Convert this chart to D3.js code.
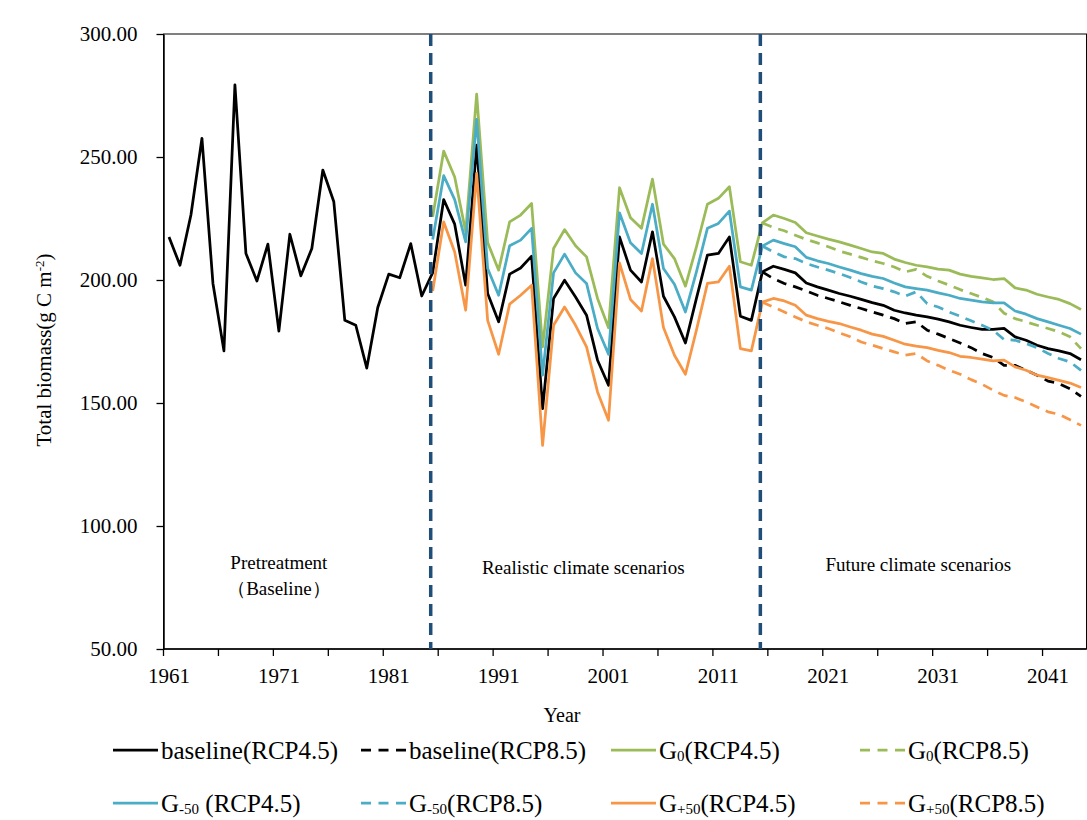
<!DOCTYPE html>
<html><head><meta charset="utf-8">
<script src="https://cdn.jsdelivr.net/npm/d3@7"></script>
<style>
body{margin:0;background:#fff}
svg{display:block}
text{font-family:"Times New Roman","Liberation Serif",serif;fill:#000}
</style>
</head><body>
<svg id="chart" width="1087" height="820"></svg>
<script>
// ---------- DATA ----------
const years = d3.range(1961, 2045);              // category axis 1961..2044
const xTickLabels = [1961, 1971, 1981, 1991, 2001, 2011, 2021, 2031, 2041];
const yTickValues = [50, 100, 150, 200, 250, 300];
const periodDividers = [1985, 2015];
const periodLabelText = [["Pretreatment", "（Baseline）"], ["Realistic climate scenarios"], ["Future climate scenarios"]];
const periodLabelYear = [1971.0, 1998.7, 2029.2];

// baseline (RCP4.5): 1961-2044
const baseline45 = [217.5,206,226.5,257.6,198.6,171.2,279.3,210.8,199.6,214.6,
  179.2,218.6,201.7,212.8,244.7,231.8,183.6,181.6,164.2,188.8,
  202.4,200.9,214.8,193.5,203.0,
  232.7,222.7,197.9,254.8,194.5,183.0,202.4,204.9,209.7,147.7,
  192.5,199.9,193.1,185.7,167.4,157.2,217.5,204.0,199.2,219.6,
  193.4,185.0,174.4,192.5,210.1,210.8,217.5,185.3,183.6,203.3,
  205.6,204.3,202.9,198.8,197.2,195.9,194.5,193.4,192.1,190.8,
  189.7,187.7,186.6,185.7,185.0,184.1,183.0,181.6,180.7,179.9,
  179.9,180.3,176.9,175.5,173.5,172.1,171.2,170.1,167.6];
// G0 (RCP4.5): 1985-2044
const g0_45 = [225.7,252.4,241.9,219.6,275.6,215.2,204.0,223.6,226.4,231.1,
  172.8,212.8,220.5,213.9,209.4,192.5,180.6,237.5,225.3,221.0,
  241.0,214.6,208.7,197.5,213.5,230.8,233.2,237.9,207.4,206.0,
  223.2,226.4,225.0,223.4,219.2,217.9,216.6,215.5,214.2,212.8,
  211.4,210.8,208.5,207.1,206.0,205.3,204.4,204.0,202.4,201.5,
  200.9,200.2,200.6,196.8,195.9,194.2,193.1,192.1,190.4,188.0];
// G-50 (RCP4.5): 1985-2044
const gm50_45 = [216.5,242.4,232.7,215.5,265.3,204.7,193.8,213.9,216.2,221.0,
  161.3,202.9,210.5,202.9,198.6,180.3,169.8,227.3,215.1,210.8,
  230.8,204.7,198.3,187.0,203.3,221.0,223.0,228.0,197.2,195.9,
  213.8,216.2,214.8,213.5,209.2,207.8,206.7,205.3,204.0,202.6,
  201.5,200.6,198.8,197.2,196.5,195.9,194.8,193.8,192.5,191.8,
  191.1,190.7,190.7,187.4,186.1,184.3,183.0,181.6,180.3,178.0];
// G+50 (RCP4.5): 1985-2044
const gp50_45 = [195.5,223.6,211.4,187.7,243.3,183.6,169.8,190.2,193.8,197.9,
  132.8,181.6,189.0,181.6,172.8,154.5,143.0,207.0,192.1,187.4,
  208.7,180.7,169.4,161.7,179.6,198.6,199.2,205.6,172.1,171.2,
  191.0,192.5,191.5,189.7,185.7,184.3,183.2,182.3,180.9,179.6,
  178.0,177.1,175.5,173.9,173.1,172.5,171.4,170.5,169.0,168.5,
  167.8,167.1,167.4,164.7,163.3,161.3,160.3,159.2,158.1,156.3];
// RCP8.5 scenarios: 2015-2044
const baseline85 = [203.3,200.6,198.6,197.2,195.6,193.8,192.5,191.1,189.7,188.4,
  187.0,185.7,184.3,182.3,183.0,179.6,178.0,176.2,174.4,172.5,
  170.1,168.5,165.3,165.3,163.3,161.3,158.9,157.9,155.8,152.7];
const g0_85 = [223.2,221.3,220.0,218.2,216.5,215.1,213.5,211.8,210.5,209.2,
  207.8,206.7,205.3,203.3,204.3,201.5,199.6,197.9,196.1,194.5,
  192.9,191.1,186.5,184.3,183.0,181.6,180.3,178.9,176.9,172.1];
const gm50_85 = [213.8,211.4,209.4,208.7,206.7,205.3,204.0,202.6,201.0,199.2,
  197.6,196.5,195.2,193.4,195.2,190.4,189.0,187.0,185.3,183.4,
  181.6,179.6,175.8,175.5,174.2,172.5,170.1,168.1,166.7,163.3];
const gp50_85 = [191.0,189.0,187.0,185.0,183.0,181.6,180.3,178.5,176.9,174.8,
  173.5,172.1,170.8,169.4,170.1,167.1,165.3,163.3,161.7,159.5,
  157.6,155.2,153.1,152.2,150.4,148.4,146.4,145.4,143.2,140.9];

const seriesStart = [1961, 2015, 1985, 2015, 1985, 2015, 1985, 2015];
const seriesValues = [baseline45, baseline85, g0_45, g0_85, gm50_45, gm50_85, gp50_45, gp50_85];
const seriesLabels = [
  ["baseline(RCP4.5)"], ["baseline(RCP8.5)"],
  ["G", "0", "(RCP4.5)"], ["G", "0", "(RCP8.5)"],
  ["G", "-50", " (RCP4.5)"], ["G", "-50", "(RCP8.5)"],
  ["G", "+50", "(RCP4.5)"], ["G", "+50", "(RCP8.5)"]
];

// ---------- STYLE ----------
const colors = ["#000000", "#000000", "#9BBB59", "#9BBB59", "#4BACC6", "#4BACC6", "#F79646", "#F79646"];
const dashedFlags = [false, true, false, true, false, true, false, true];

const svg = d3.select("#chart");
const L = 163.5, R = 1086.5, T = 34, B = 649;

const xb = d3.scaleBand().domain(years).range([L, R]).paddingInner(0).paddingOuter(0);
const xc = yr => xb(yr) + xb.bandwidth() / 2;
const xLin = d3.scaleLinear().domain([years[0], years[years.length - 1]])
  .range([xc(years[0]), xc(years[years.length - 1])]);
const y = d3.scaleLinear().domain([50, 300]).range([B, T]);

// frame
svg.append("rect").attr("x", L).attr("y", T).attr("width", R - L).attr("height", B - T)
  .attr("fill", "none").attr("stroke", "#000").attr("stroke-width", 1);

// y axis
const yAxis = svg.append("g").attr("transform", `translate(${L},0)`)
  .call(d3.axisLeft(y).tickValues(yTickValues).tickSize(7).tickPadding(19)
    .tickSizeOuter(0).tickFormat(d3.format(".2f")));
yAxis.select(".domain").attr("stroke", "#000").attr("stroke-width", 1.5);
yAxis.selectAll(".tick line").attr("stroke", "#000").attr("stroke-width", 1.3);
yAxis.selectAll(".tick text").style("font-size", "21px")
  .style("font-family", '"Times New Roman","Liberation Serif",serif').attr("fill", "#000");

// x axis
const xg = svg.append("g");
xg.append("line").attr("x1", L).attr("x2", R).attr("y1", B).attr("y2", B)
  .attr("stroke", "#000").attr("stroke-width", 1.5);
xg.selectAll("line.tk").data(years.filter(d => (d - years[0]) % 5 === 0)).join("line")
  .attr("class", "tk")
  .attr("x1", d => xb(d)).attr("x2", d => xb(d))
  .attr("y1", B).attr("y2", B + 7).attr("stroke", "#000").attr("stroke-width", 1.3);
xg.selectAll("text").data(xTickLabels).join("text")
  .attr("x", d => xc(d)).attr("y", 683).attr("text-anchor", "middle")
  .style("font-size", "21px").text(d => d);

// axis titles
svg.append("text").attr("x", 562).attr("y", 722).attr("text-anchor", "middle")
  .style("font-size", "20px").text("Year");
const yt = svg.append("text").attr("transform", "translate(51,350) rotate(-90)")
  .attr("text-anchor", "middle").style("font-size", "21px");
yt.append("tspan").text("Total biomass(g C m");
yt.append("tspan").attr("dy", -7).style("font-size", "13px").text("-2");
yt.append("tspan").attr("dy", 7).text(")");

// period labels
const periodBaseY = [569, 574, 571];
periodLabelText.forEach((lines, i) => {
  const t = svg.append("text").attr("text-anchor", "middle").style("font-size", "19px");
  lines.forEach((ln, j) => {
    t.append("tspan").attr("x", xLin(periodLabelYear[i]))
      .attr("y", periodBaseY[i] + j * 26).text(ln);
  });
});

// series lines
const line = d3.line().x(d => xc(d.yr)).y(d => y(d.v));
seriesValues.forEach((vals, i) => {
  const pts = vals.map((v, k) => ({yr: seriesStart[i] + k, v}));
  svg.append("path").datum(pts).attr("d", line)
    .attr("fill", "none").attr("stroke", colors[i]).attr("stroke-width", 2.75)
    .attr("stroke-linejoin", "round")
    .attr("stroke-dasharray", dashedFlags[i] ? "10,7" : null);
});

// dividers
svg.selectAll("line.div").data(periodDividers).join("line").attr("class", "div")
  .attr("x1", d => xc(d) - 2).attr("x2", d => xc(d) - 2)
  .attr("y1", T).attr("y2", B)
  .attr("stroke", "#1F4E79").attr("stroke-width", 3.5).attr("stroke-dasharray", "12,7");

// legend
const legCols = [113, 361, 611, 860];
const legRows = [750, 803];
seriesLabels.forEach((lab, i) => {
  const c = i % 4, r = Math.floor(i / 4);
  const x0 = legCols[c], yy = legRows[r];
  svg.append("line").attr("x1", x0).attr("x2", x0 + 45).attr("y1", yy).attr("y2", yy)
    .attr("stroke", colors[i]).attr("stroke-width", 2.75)
    .attr("stroke-dasharray", dashedFlags[i] ? "10,7.5" : null);
  const t = svg.append("text").attr("x", x0 + 48).attr("y", yy + 8.5).style("font-size", "25px");
  if (lab.length === 1) t.text(lab[0]);
  else {
    t.append("tspan").text(lab[0]);
    t.append("tspan").attr("dy", 2).style("font-size", "15px").text(lab[1]);
    t.append("tspan").attr("dy", -2).text(lab[2]);
  }
});
</script>
</body></html>
